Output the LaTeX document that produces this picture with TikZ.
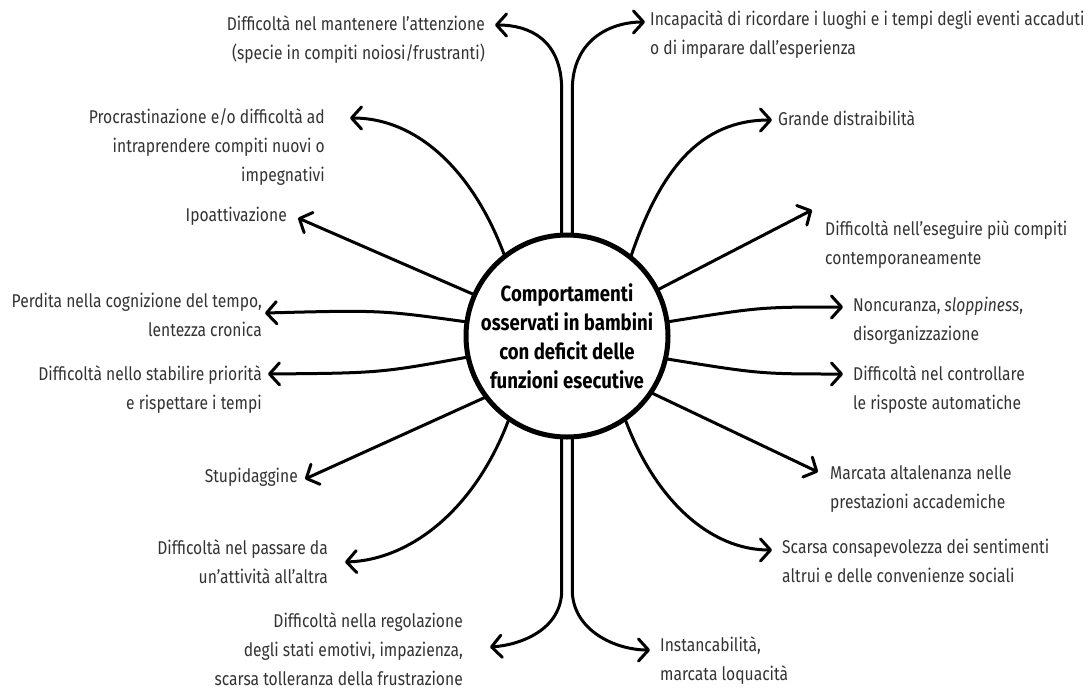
\documentclass[tikz,border=0pt]{standalone}
\usepackage{fontspec}
\setmainfont[FakeStretch=0.845]{Fira Sans}
\usetikzlibrary{arrows.meta}
\begin{document}
\begin{tikzpicture}[x=1pt,y=-1pt,
  lbl/.style={inner sep=0pt, font=\fontsize{18.5}{29}\selectfont, text=black!80},
  lr/.style={lbl, align=right},
  ll/.style={lbl, align=left},
  arr/.style={line width=3pt, line cap=round, -{Straight Barb[length=10pt,width=22pt,line width=3pt,round]}},
  hub/.style={circle, draw, line width=5pt, minimum size=202pt, inner sep=0pt, outer sep=0pt, align=center, font=\bfseries\fontsize{22}{29}\selectfont}
]
\useasboundingbox (0,0) rectangle (1091,689);
\node[hub] (c) at (567,336) {Comportamenti\\osservati in bambini\\con deficit delle\\funzioni esecutive};

\node[lr, anchor=north east] (L1) at (485,15) {Difficoltà nel mantenere l’attenzione\\(specie in compiti noiosi/frustranti)};
\node[ll, anchor=north west] (L2) at (650,10) {Incapacità di ricordare i luoghi e i tempi degli eventi accaduti\\o di imparare dall’esperienza};
\node[lr, anchor=north east] (L3) at (325,108) {Procrastinazione e/o difficoltà ad\\intraprendere compiti nuovi o\\impegnativi};
\node[lr, anchor=north east] (L4) at (287,207) {Ipoattivazione};
\node[lr, anchor=north east] (L5) at (262,293) {Perdita nella cognizione del tempo,\\lentezza cronica};
\node[lr, anchor=north east] (L6) at (262,365) {Difficoltà nello stabilire priorità\\e rispettare i tempi};
\node[lr, anchor=north east] (L7) at (298,468) {Stupidaggine};
\node[lr, anchor=north east] (L8) at (328,539) {Difficoltà nel passare da\\un’attività all’altra};
\node[lr, anchor=north east] (L9) at (463,612) {Difficoltà nella regolazione\\degli stati emotivi, impazienza,\\scarsa tolleranza della frustrazione};
\node[ll, anchor=north west] (L10) at (660,636) {Instancabilità,\\marcata loquacità};
\node[ll, anchor=north west] (L11) at (782,539) {Scarsa consapevolezza dei sentimenti\\altrui e delle convenienze sociali};
\node[ll, anchor=north west] (L12) at (830,465) {Marcata altalenanza nelle\\prestazioni accademiche};
\node[ll, anchor=north west] (L13) at (853,365) {Difficoltà nel controllare\\le risposte automatiche};
\node[ll, anchor=north west] (L14) at (853,297) {Noncuranza, \textit{sloppiness},\\disorganizzazione};
\node[ll, anchor=north west] (L15) at (825,220) {Difficoltà nell’eseguire più compiti\\contemporaneamente};
\node[ll, anchor=north west] (L16) at (778,110) {Grande distraibilità};

\coordinate (t1) at (495,25);
\coordinate (t2) at (645,22);
\coordinate (t3) at (350,118);
\coordinate (t4) at (298,218);
\coordinate (t5) at (265,313);
\coordinate (t6) at (268,374);
\coordinate (t7) at (305,479);
\coordinate (t8) at (345,562);
\coordinate (t9) at (490,647);
\coordinate (t10) at (650,650);
\coordinate (t11) at (772,550);
\coordinate (t12) at (818,472);
\coordinate (t13) at (843,374);
\coordinate (t14) at (843,307);
\coordinate (t15) at (812,210);
\coordinate (t16) at (772,120);

\draw[arr] (c.93) -- (c.93 |- 0,90) .. controls (c.93 |- 0,40) and (530,25) .. (t1);
\draw[arr] (c.87) -- (c.87 |- 0,90) .. controls (c.87 |- 0,40) and (610,22) .. (t2);
\draw[arr] (c.128) .. controls (475,175) and (420,118) .. (t3);
\draw[arr] (c.156) -- (t4);
\draw[arr] (c.172) .. controls (380,310) .. (t5);
\draw[arr] (c.192) .. controls (380,373) .. (t6);
\draw[arr] (c.217) -- (t7);
\draw[arr] (c.235) .. controls (475,510) and (410,560) .. (t8);
\draw[arr] (c.267) -- (c.267 |- 0,590) .. controls (c.267 |- 0,630) and (520,645) .. (t9);
\draw[arr] (c.273) -- (c.273 |- 0,590) .. controls (c.273 |- 0,630) and (615,650) .. (t10);
\draw[arr] (c.305) .. controls (655,500) and (710,550) .. (t11);
\draw[arr] (c.326) -- (t12);
\draw[arr] (c.347) .. controls (760,374) .. (t13);
\draw[arr] (c.8) .. controls (760,307) .. (t14);
\draw[arr] (c.27) -- (t15);
\draw[arr] (c.51) .. controls (660,170) and (700,120) .. (t16);
\end{tikzpicture}
\end{document}
